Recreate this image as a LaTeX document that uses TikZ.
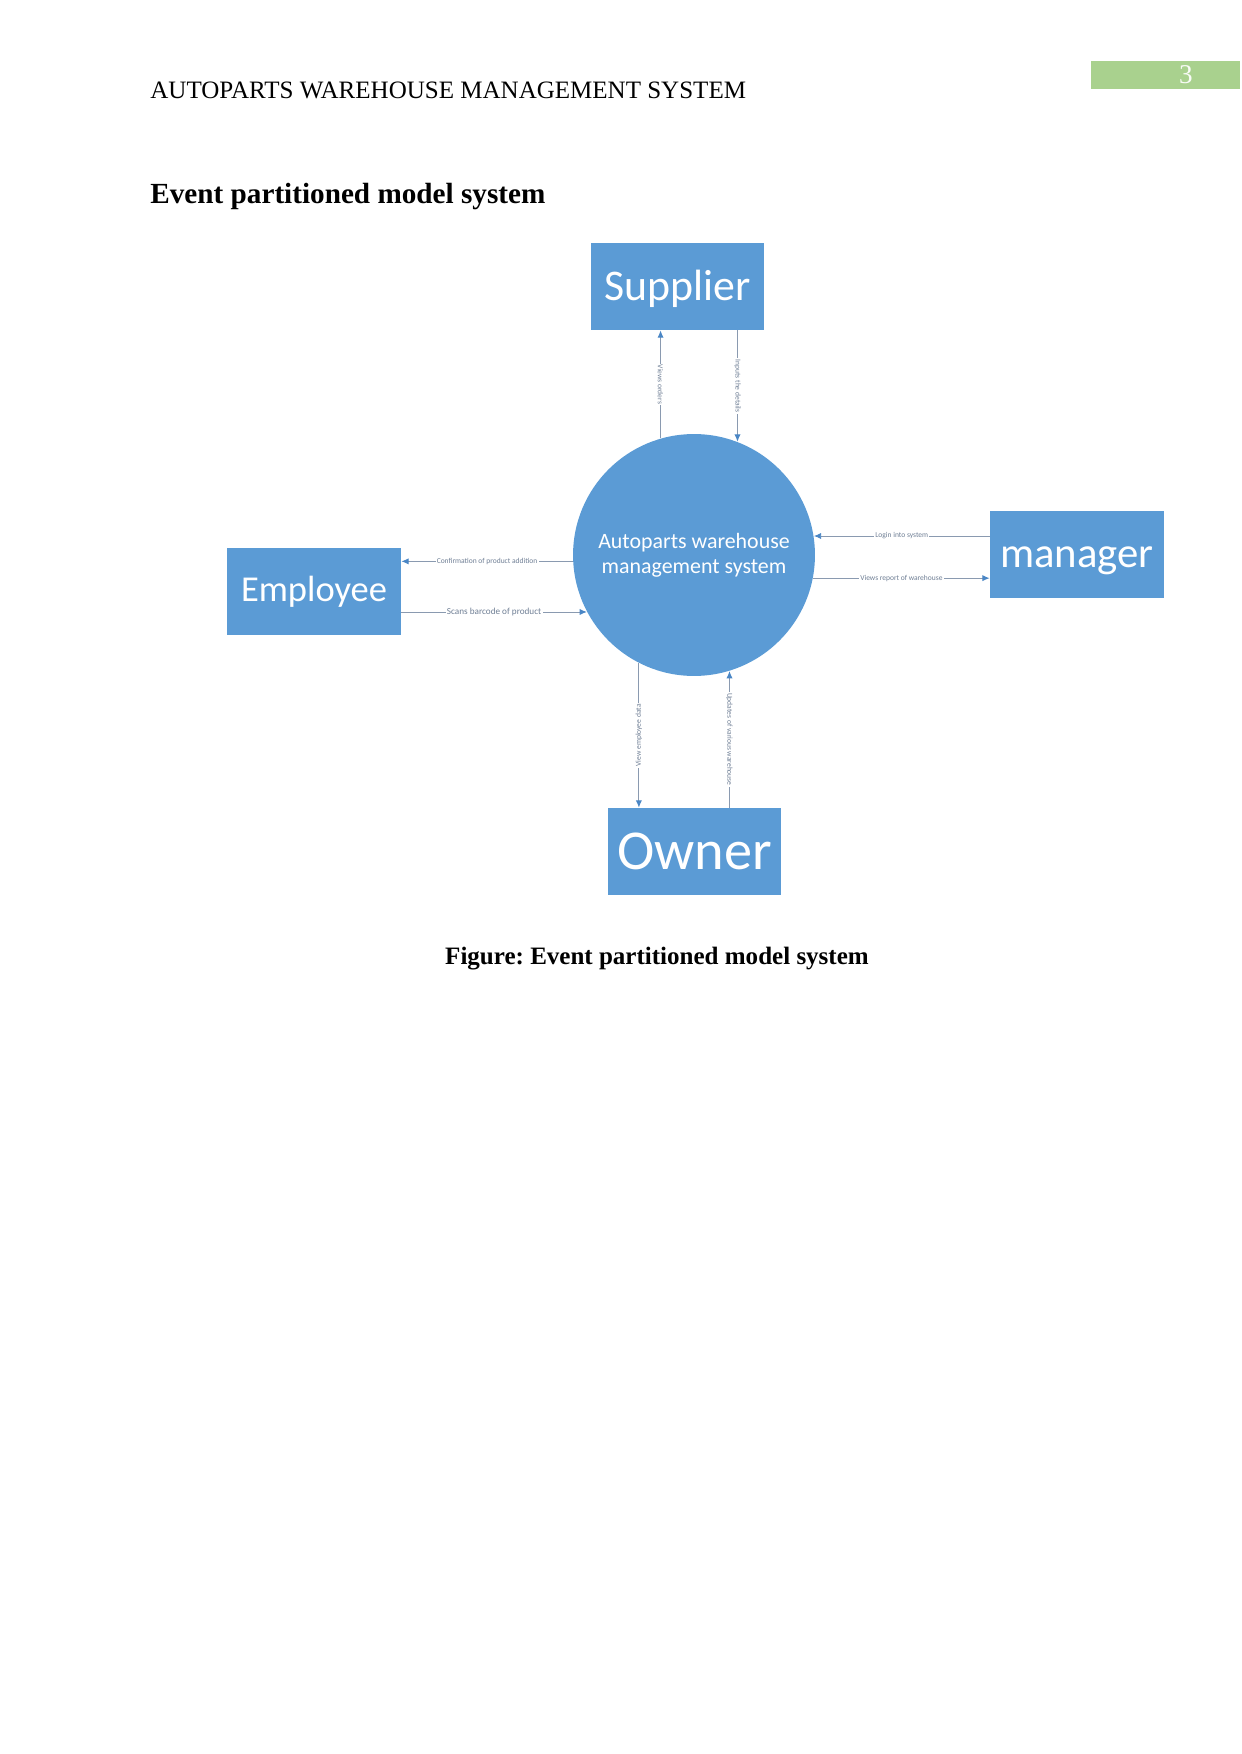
\documentclass[tikz,border=0pt]{standalone}
\usepackage{fontspec}
\setmainfont{Liberation Serif}
\newfontfamily\diagfont{Carlito}
\usetikzlibrary{arrows.meta}

\definecolor{boxblue}{HTML}{5B9BD5}
\definecolor{tipblue}{HTML}{4A86C5}
\definecolor{flowgray}{HTML}{8A9AB0}
\definecolor{lblgray}{HTML}{6F7F95}
\definecolor{pagegreen}{HTML}{A9D18E}

\tikzset{
  entity/.style={fill=boxblue, text=white, minimum width=83.4pt, minimum height=41.7pt, inner sep=0pt, font=\diagfont},
  flow/.style={draw=flowgray, line width=0.45pt, -{Latex[length=3.5pt,width=3pt,color=tipblue]}},
  lbl/.style={fill=white, text=lblgray, inner sep=0.6pt, font=\diagfont\fontsize{3.6}{4}\selectfont}
}

\begin{document}
\frenchspacing
\begin{tikzpicture}[x=0.4795pt,y=-0.4795pt]
\useasboundingbox (0,0) rectangle (1241,1754);

% header
\fill[pagegreen] (1091,61) rectangle (1240,89);
\node[text=white!92!pagegreen, font=\fontsize{13}{15}\selectfont] (pgno) at (1186,75) {3};
\node[anchor=base west, inner sep=0pt, font=\fontsize{12}{14}\selectfont] (hdr) at (150,98.5) {AUTOPARTS WAREHOUSE MANAGEMENT SYSTEM};
\node[anchor=base west, inner sep=0pt, font=\bfseries\fontsize{14}{17}\selectfont] (title) at (150,203.5) {Event partitioned model system};

% system and entities
\node[circle, fill=boxblue, text=white, minimum size=116pt, inner sep=0pt, align=center,
      font=\diagfont\fontsize{10.5}{12}\selectfont] (sys) at (694,555) {Autoparts warehouse\\management system};
\node[entity, text height=17pt, text depth=4pt, font=\diagfont\fontsize{21}{24}\selectfont] (supplier) at (677.5,286.5) {Supplier};
\node[entity, font=\diagfont\fontsize{17.5}{20}\selectfont] (employee) at (314,591.5) {Employee};
\node[entity, text height=16.3pt, text depth=4pt, font=\diagfont\fontsize{20.5}{24}\selectfont] (manager) at (1077,554.5) {manager};
\node[entity, font=\diagfont\fontsize{27}{30}\selectfont] (owner) at (694.5,851.5) {Owner};

% supplier
\draw[flow] (sys.106.8) -- (sys.106.8 |- supplier.south) node[lbl, midway, rotate=-90] {Views orders};
\draw[flow] (sys.69.7 |- supplier.south) -- (sys.69.7) node[lbl, midway, rotate=-90] {Inputs the details};

% employee
\draw[flow] (sys.183.6) -- (sys.183.6 -| employee.east) node[lbl, midway] {Confirmation of product addition};
\draw[flow] (sys.208.6 -| employee.east) -- (sys.208.6) node[lbl, midway, font=\diagfont\fontsize{4.4}{5}\selectfont] {Scans barcode of product};

% manager
\draw[flow] (sys.9 -| manager.west) -- (sys.9) node[lbl, midway] {Login into system};
\draw[flow] (sys.-11.9) -- (sys.-11.9 -| manager.west) node[lbl, midway] {Views report of warehouse};

% owner
\draw[flow] (sys.243) -- (sys.243 |- owner.north) node[lbl, midway, rotate=90] {View employee data};
\draw[flow] (sys.287.3 |- owner.north) -- (sys.287.3) node[lbl, midway, rotate=-90] {Updates of various warehouse};

\node[font=\bfseries\fontsize{12}{14}\selectfont, anchor=base] (caption) at (657,964) {Figure: Event partitioned model system};
\end{tikzpicture}
\end{document}
